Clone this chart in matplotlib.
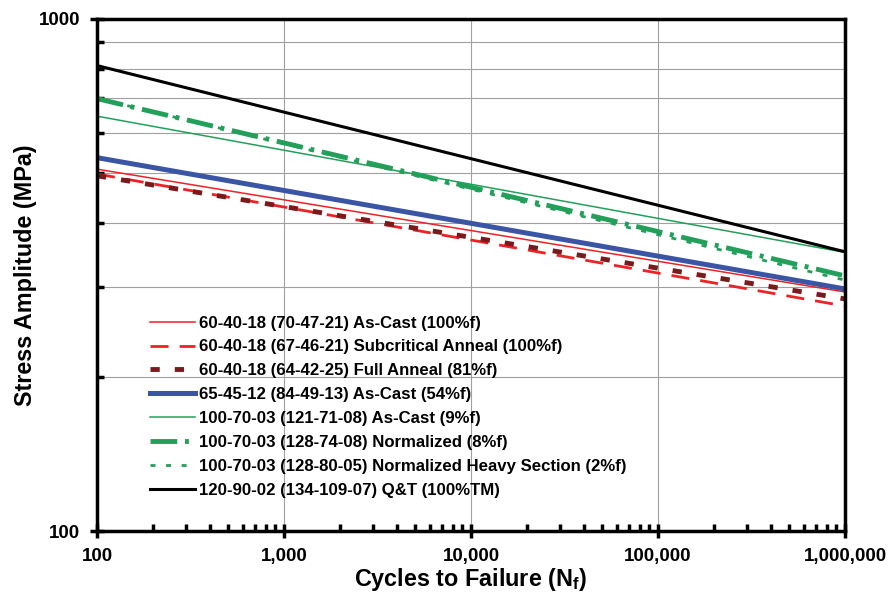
import matplotlib
matplotlib.use("Agg")
import matplotlib.pyplot as plt
from matplotlib.ticker import FixedLocator, FixedFormatter, NullFormatter

plt.rcParams['font.family'] = ['Liberation Sans', 'DejaVu Sans']
plt.rcParams['font.weight'] = 'bold'
plt.rcParams['mathtext.fontset'] = 'custom'
plt.rcParams['mathtext.bf'] = 'Liberation Sans:bold'
plt.rcParams['mathtext.rm'] = 'Liberation Sans:bold'

cycles = [100, 1000000]
as_cast_60 = [509, 293]
subcrit_60 = [498, 275]
full_anneal_60 = [494, 284]
as_cast_65 = [536, 297]
as_cast_100 = [646, 350]
normalized_100 = [699, 315]
norm_heavy_100 = [700, 309]
qt_120 = [811, 351]

labels = [
    "60-40-18 (70-47-21) As-Cast (100%f)",
    "60-40-18 (67-46-21) Subcritical Anneal (100%f)",
    "60-40-18 (64-42-25) Full Anneal (81%f)",
    "65-45-12 (84-49-13) As-Cast (54%f)",
    "100-70-03 (121-71-08) As-Cast (9%f)",
    "100-70-03 (128-74-08) Normalized (8%f)",
    "100-70-03 (128-80-05) Normalized Heavy Section (2%f)",
    "120-90-02 (134-109-07) Q&T (100%TM)",
]

x_ticks = [100, 1000, 10000, 100000, 1000000]
x_tick_labels = ["100", "1,000", "10,000", "100,000", "1,000,000"]
y_ticks = [100, 1000]
y_tick_labels = ["100", "1000"]

fig = plt.figure(figsize=(8.91, 5.99), dpi=100)
ax = fig.add_axes([0.1089, 0.1135, 0.8395, 0.8548])
ax.set_xscale('log')
ax.set_yscale('log')

red = '#ee2124'
dred = '#7b1a1c'
blue = '#3b55a5'
green = '#22a05a'

ax.plot(cycles, as_cast_60, color=red, lw=1.1, label=labels[0])
ax.plot(cycles, subcrit_60, color=red, lw=2.0, dashes=(6.5, 4), label=labels[1])
ax.plot(cycles, full_anneal_60, color=dred, lw=3.5, dashes=(1.9, 3.1), label=labels[2])
ax.plot(cycles, as_cast_65, color=blue, lw=3.6, label=labels[3])
ax.plot(cycles, as_cast_100, color=green, lw=1.1, label=labels[4])
ax.plot(cycles, normalized_100, color=green, lw=3.5, dashes=(5.5, 1.6, 0.8, 1.6), label=labels[5])
ax.plot(cycles, norm_heavy_100, color=green, lw=2.0, dashes=(1.8, 3.8), label=labels[6])
ax.plot(cycles, qt_120, color='black', lw=2.2, label=labels[7])

ax.set_xlim(100, 1000000)
ax.set_ylim(100, 1000)

ax.xaxis.set_major_locator(FixedLocator(x_ticks))
ax.xaxis.set_major_formatter(FixedFormatter(x_tick_labels))
ax.xaxis.set_minor_formatter(NullFormatter())
ax.yaxis.set_major_locator(FixedLocator(y_ticks))
ax.yaxis.set_major_formatter(FixedFormatter(y_tick_labels))
ax.yaxis.set_minor_formatter(NullFormatter())

ax.grid(True, which='major', axis='x', color='#a0a0a0', lw=0.8)
ax.grid(True, which='minor', axis='y', color='#a0a0a0', lw=0.8)

for s in ax.spines.values():
    s.set_linewidth(2.5)
ax.tick_params(which='major', direction='inout', length=10, width=2.5,
               labelsize=13.5, pad=7)
ax.tick_params(which='minor', direction='in', length=5, width=2.5)
for lab in ax.get_xticklabels() + ax.get_yticklabels():
    lab.set_fontweight('bold')

ax.set_xlabel("Cycles to Failure (N$_\\mathbf{f}$)", fontsize=16.8, fontweight='bold', labelpad=1)
ax.set_ylabel("Stress Amplitude (MPa)", fontsize=16.8, fontweight='bold', labelpad=1.5)

leg = ax.legend(loc='upper left', bbox_to_anchor=(0.0615, 0.434), frameon=False,
                prop={'size': 12.1, 'weight': 'bold'}, handlelength=2.7,
                handletextpad=0.25, labelspacing=0.53, borderaxespad=0)

fig.savefig('out.png', dpi=100)
